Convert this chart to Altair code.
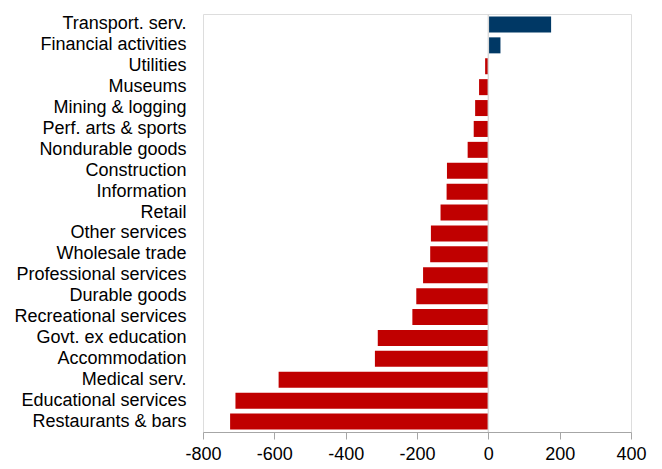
import altair as alt
import pandas as pd

categories = [
    "Transport. serv.", "Financial activities", "Utilities", "Museums",
    "Mining & logging", "Perf. arts & sports", "Nondurable goods",
    "Construction", "Information", "Retail", "Other services",
    "Wholesale trade", "Professional services", "Durable goods",
    "Recreational services", "Govt. ex education", "Accommodation",
    "Medical serv.", "Educational services", "Restaurants & bars",
]
values = [176, 34, -9, -26, -37, -41, -58, -116, -117, -134, -161,
          -163, -183, -202, -213, -310, -318, -588, -709, -724]
x_ticks = [-800, -600, -400, -200, 0, 200, 400]

df = pd.DataFrame({"category": categories, "value": values})
zero_df = pd.DataFrame({"zero": [0]})

FONT = "Liberation Sans"

bars = alt.Chart(df).mark_bar(size=16).encode(
    y=alt.Y("category:N", sort=categories, title=None,
            axis=alt.Axis(domain=False, ticks=False, labelFontSize=18,
                          labelColor="black", labelFont=FONT, labelPadding=17,
                          labelLimit=300)),
    x=alt.X("value:Q", title=None,
            scale=alt.Scale(domain=[-800, 400], nice=False),
            axis=alt.Axis(values=x_ticks, grid=False, domainColor="#a6a6a6",
                          tickColor="#a6a6a6", tickSize=7, labelFontSize=18,
                          labelColor="black", labelFont=FONT, labelPadding=6,
                          labelFlush=False,
                          labelExpr="datum.value < 0 ? '-' + abs(datum.value) : '' + datum.value")),
    color=alt.condition(alt.datum.value > 0, alt.value("#003865"), alt.value("#C00000")),
)

zero = alt.Chart(zero_df).mark_rule(color="#d9d9d9", strokeWidth=1.5).encode(
    x=alt.X("zero:Q")
)

chart = alt.layer(bars, zero).properties(
    width=428, height=418
).configure_view(stroke=None).configure(background="white")

chart.save("out.html", embed_options={"renderer": "svg", "actions": False})
